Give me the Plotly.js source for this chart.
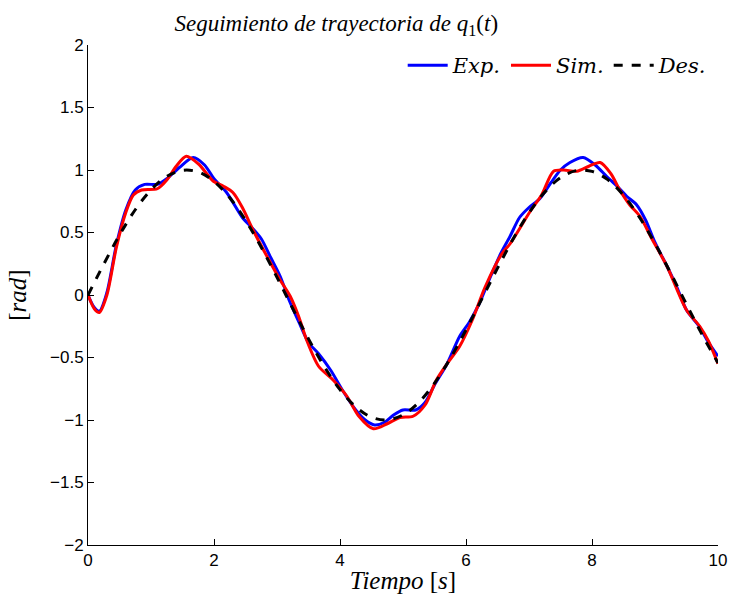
<!DOCTYPE html>
<html>
<head>
<meta charset="utf-8">
<script src="https://cdn.plot.ly/plotly-3.0.1.min.js"></script>
<style>html,body{margin:0;padding:0;background:#fff;}#chart{width:731px;height:603px;}</style>
</head>
<body>
<div id="chart"></div>
<script>
// Experimental (blue)
const expT = [0, 0.1, 0.18, 0.3, 0.45, 0.6, 0.75, 0.9, 1.1, 1.25, 1.45, 1.67, 1.85, 2.0, 2.2, 2.45, 2.6, 2.75, 2.9, 3.05, 3.2, 3.35, 3.5, 3.66, 3.85, 4.05, 4.25, 4.4, 4.55, 4.7, 4.85, 5.0, 5.2, 5.35, 5.5, 5.7, 5.9, 6.05, 6.2, 6.4, 6.55, 6.7, 6.85, 7.0, 7.17, 7.35, 7.5, 7.65, 7.86, 8.05, 8.23, 8.4, 8.55, 8.71, 8.85, 9.0, 9.2, 9.35, 9.5, 9.7, 9.85, 10];
const expY = [0, -0.10, -0.13, 0.02, 0.40, 0.68, 0.84, 0.885, 0.885, 0.93, 1.02, 1.10, 1.04, 0.93, 0.82, 0.62, 0.54, 0.45, 0.30, 0.15, -0.05, -0.22, -0.38, -0.47, -0.60, -0.77, -0.92, -1.0, -1.04, -1.02, -0.96, -0.92, -0.92, -0.86, -0.72, -0.55, -0.33, -0.22, -0.08, 0.16, 0.33, 0.47, 0.62, 0.70, 0.77, 0.90, 1.0, 1.06, 1.10, 1.04, 0.95, 0.87, 0.79, 0.72, 0.60, 0.42, 0.22, 0.06, -0.12, -0.25, -0.38, -0.49];
// Simulated (red)
const simT = [0, 0.1, 0.18, 0.3, 0.45, 0.6, 0.72, 0.85, 1.1, 1.25, 1.4, 1.56, 1.75, 1.99, 2.15, 2.3, 2.45, 2.62, 2.84, 3.05, 3.21, 3.35, 3.47, 3.66, 3.89, 4.11, 4.3, 4.53, 4.75, 4.95, 5.16, 5.35, 5.53, 5.7, 5.9, 6.1, 6.3, 6.57, 6.7, 7.02, 7.2, 7.39, 7.55, 7.76, 7.95, 8.13, 8.3, 8.44, 8.6, 8.76, 8.95, 9.19, 9.5, 9.71, 9.85, 10];
const simY = [0, -0.11, -0.14, 0.0, 0.38, 0.66, 0.80, 0.84, 0.85, 0.92, 1.03, 1.11, 1.05, 0.91, 0.87, 0.82, 0.70, 0.52, 0.31, 0.12, -0.01, -0.18, -0.36, -0.57, -0.68, -0.81, -0.97, -1.07, -1.03, -0.98, -0.97, -0.88, -0.68, -0.55, -0.41, -0.20, 0.06, 0.33, 0.41, 0.67, 0.80, 0.99, 1.0, 0.99, 1.03, 1.06, 0.97, 0.84, 0.72, 0.63, 0.45, 0.23, -0.12, -0.25, -0.37, -0.55];
// Desired (black dashed)
const desT = [0, 0.25, 0.5, 0.75, 1, 1.25, 1.5, 1.75, 2, 2.25, 2.5, 2.75, 3, 3.25, 3.5, 3.75, 4, 4.25, 4.5, 4.75, 5, 5.25, 5.5, 5.75, 6, 6.25, 6.5, 6.75, 7, 7.25, 7.5, 7.75, 8, 8.25, 8.5, 8.75, 9, 9.25, 9.5, 9.75, 10];
const desY = [0, 0.247, 0.479, 0.682, 0.841, 0.949, 0.997, 0.984, 0.909, 0.778, 0.598, 0.382, 0.141, -0.108, -0.351, -0.572, -0.757, -0.895, -0.978, -0.999, -0.959, -0.859, -0.706, -0.508, -0.279, -0.033, 0.215, 0.450, 0.657, 0.823, 0.938, 0.995, 0.989, 0.923, 0.798, 0.624, 0.412, 0.174, -0.075, -0.319, -0.544];

const xTicks = [0, 2, 4, 6, 8, 10];
const yTicks = [-2, -1.5, -1, -0.5, 0, 0.5, 1, 1.5, 2];
const yTickText = ['\u22122', '\u22121.5', '\u22121', '\u22120.5', '0', '0.5', '1', '1.5', '2'];

const serif = 'Liberation Serif, DejaVu Serif, serif';
const wideSerif = 'DejaVu Serif, Liberation Serif, serif';
const traces = [
  {x: expT, y: expY, name: '<i>Exp.</i>', mode: 'lines', line: {color: '#0000ff', width: 3, shape: 'spline', smoothing: 0.8}},
  {x: simT, y: simY, name: '<i>Sim.</i>', mode: 'lines', line: {color: '#ff0000', width: 3, shape: 'spline', smoothing: 0.8}},
  {x: desT, y: desY, name: '<i>Des.</i>', mode: 'lines', line: {color: '#000000', width: 3, dash: 'dash', shape: 'spline'}}
];

const layout = {
  width: 731, height: 603,
  margin: {l: 88, r: 13, t: 45, b: 58},
  paper_bgcolor: '#fff', plot_bgcolor: '#fff',
  font: {family: 'Liberation Sans, Arial, sans-serif', size: 17, color: '#000'},
  title: {text: '<i>Seguimiento de trayectoria de q</i><sub>1</sub>(<i>t</i>)', font: {family: serif, size: 23, color: '#000'}, x: 0.46, xanchor: 'center', y: 0.975, yanchor: 'top'},
  xaxis: {range: [0, 10], tickvals: xTicks, ticks: 'inside', ticklen: 6, tickcolor: '#000', showline: true, linecolor: '#000', linewidth: 1, showgrid: false, zeroline: false,
          title: {text: '<i>Tiempo</i> [<i>s</i>]', font: {family: serif, size: 25}, standoff: 2}},
  yaxis: {range: [-2, 2], tickvals: yTicks, ticktext: yTickText, ticks: 'inside', ticklen: 6, tickcolor: '#000', showline: true, linecolor: '#000', linewidth: 1, showgrid: false, zeroline: false,
          title: {text: '[<i>rad</i>]', font: {family: serif, size: 25}, standoff: 16}},
  showlegend: true,
  legend: {orientation: 'h', x: 0.99, xanchor: 'right', y: 1, yanchor: 'top', bgcolor: 'rgba(0,0,0,0)', font: {family: wideSerif, size: 21}, itemwidth: 40, tracegroupgap: 0}
};

Plotly.newPlot('chart', traces, layout, {staticPlot: true, displayModeBar: false});
</script>
</body>
</html>
